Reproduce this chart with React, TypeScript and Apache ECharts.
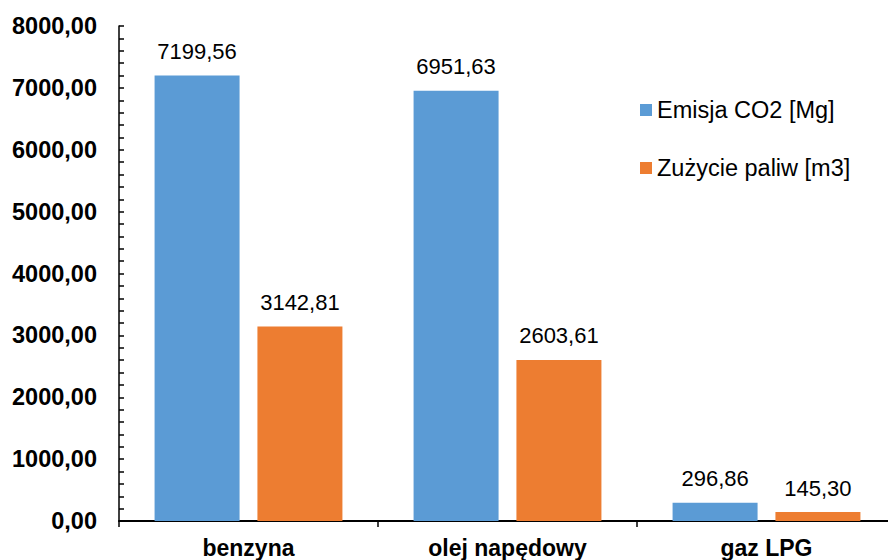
import React, { useEffect, useRef } from "react";
import * as echarts from "echarts";

const categories = ["benzyna", "olej napędowy", "gaz LPG"];
const seriesNames = ["Emisja CO2 [Mg]", "Zużycie paliw [m3]"];
const emisja = [7199.56, 6951.63, 296.86];
const zuzycie = [3142.81, 2603.61, 145.3];
const colors = ["#5B9BD5", "#ED7D31"];

const fmt = (v: number) => v.toFixed(2).replace(".", ",");
const FONT = "'Liberation Sans', Arial, sans-serif";

export default function App() {
  const ref = useRef<HTMLDivElement>(null);
  useEffect(() => {
    if (!ref.current) return;
    const chart = echarts.init(ref.current, undefined, { renderer: "svg" });
    const label = {
      show: true,
      position: "top" as const,
      distance: 13,
      fontFamily: FONT,
      fontSize: 22,
      color: "#000",
      formatter: (p: any) => fmt(p.value),
    };
    chart.setOption({
      animation: false,
      backgroundColor: "#fff",
      textStyle: { fontFamily: FONT },
      grid: {
        left: 119,
        top: 26,
        width: 777,
        height: 495,
        containLabel: false,
        outerBoundsMode: "none",
      },
      legend: {
        orient: "vertical",
        left: 635,
        top: 93,
        itemWidth: 12,
        itemHeight: 12,
        itemGap: 34,
        icon: "rect",
        textStyle: { fontFamily: FONT, fontSize: 23.5, color: "#000", padding: [0, 0, 0, 0] },
        data: seriesNames,
      },
      xAxis: {
        type: "category",
        data: categories,
        axisLine: { show: true, lineStyle: { color: "#000", width: 2 } },
        axisTick: { show: true, length: 6, lineStyle: { color: "#000", width: 1.5 } },
        axisLabel: {
          margin: 15,
          fontFamily: FONT,
          fontSize: 23,
          fontWeight: "bold",
          color: "#000",
        },
        splitLine: { show: false },
      },
      yAxis: {
        type: "value",
        min: 0,
        max: 8000,
        interval: 1000,
        axisLine: { show: true, lineStyle: { color: "#000", width: 1.5 } },
        axisTick: { show: true, inside: true, length: 5, lineStyle: { color: "#000", width: 1.5 } },
        minorTick: { show: true, splitNumber: 5, length: 5, lineStyle: { color: "#000", width: 1.5 } },
        splitLine: { show: false },
        axisLabel: {
          margin: 22,
          fontFamily: FONT,
          fontSize: 23.5,
          fontWeight: "bold",
          color: "#000",
          formatter: (v: number) => fmt(v),
        },
      },
      series: [
        {
          name: seriesNames[0],
          type: "bar",
          data: emisja,
          barWidth: 85,
          barGap: "21%",
          itemStyle: { color: colors[0] },
          label,
        },
        {
          name: seriesNames[1],
          type: "bar",
          data: zuzycie,
          barWidth: 85,
          barGap: "21%",
          itemStyle: { color: colors[1] },
          label,
        },
      ],
    });
    return () => chart.dispose();
  }, []);
  return (
    <div
      ref={ref}
      style={{ position: "fixed", left: 0, top: 0, width: 888, height: 560, background: "#fff" }}
    />
  );
}
